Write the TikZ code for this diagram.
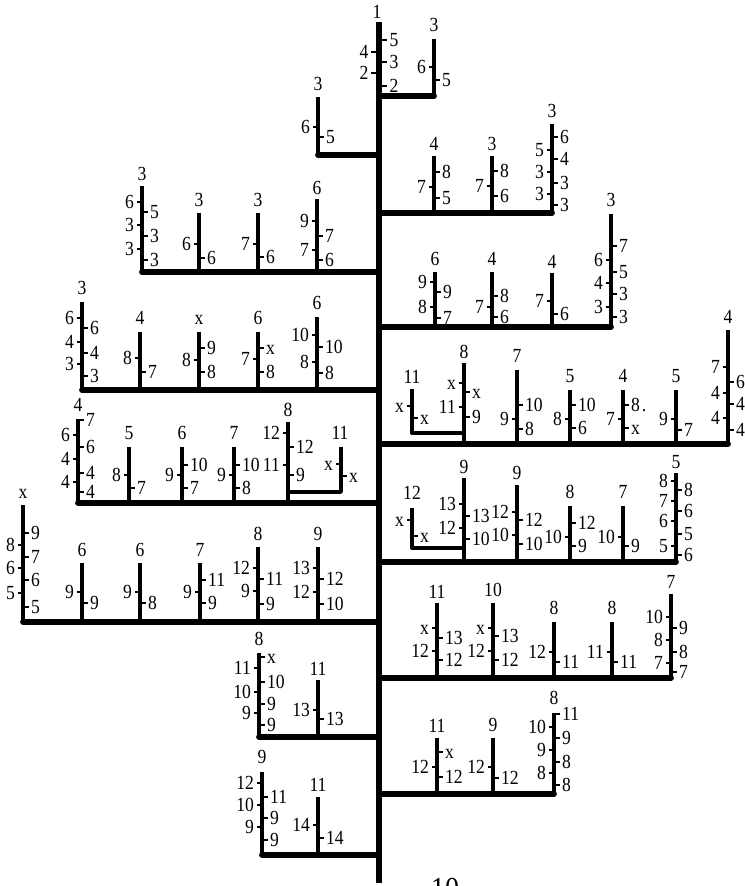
\documentclass[tikz,border=0pt]{standalone}
\usepackage{fontspec}
\setmainfont{Liberation Serif}[FakeStretch=0.88]
\newcommand\labfont{\fontsize{10}{10}\selectfont}
\newcommand\mytkw{5.5}
\newcommand\stm[5]{\def\sx{#1}\draw[st] (#1,#3) -- (#1,#2); \node[lab] at (#1,#5) {#4};}
\newcommand\rtk[2]{\draw[tk] (\sx,#1) -- ++(\mytkw,0) node[lab,anchor=west]{#2};}
\newcommand\ltk[2]{\draw[tk] (\sx,#1) -- ++(-\mytkw,0) node[lab,anchor=east]{#2};}
\begin{document}
\begin{tikzpicture}[x=0.5pt,y=-0.5pt,
 trunk/.style={line width=3.4pt},
 br/.style={line width=2.9pt, line cap=round},
 st/.style={line width=1.9pt},
 hk/.style={line width=1.7pt, line join=round},
 tk/.style={line width=1.4pt},
 lab/.style={font=\labfont, inner sep=0.6pt, text height=6.7pt, text depth=0pt}]
\useasboundingbox (0,0) rectangle (744,886);
% trunk
\draw[trunk] (379,22) -- (379,883);
\node[lab] (top) at (377,12) {1};
\def\sx{379}\renewcommand\mytkw{8}
\rtk{40}{5}\ltk{52}{4}\rtk{62}{3}\ltk{73}{2}\rtk{86}{2}
\renewcommand\mytkw{5.5}
% A
\draw[br] (379,96) -- (434,96);
\stm{434}{39}{96}{3}{25}\ltk{67}{6}\rtk{80}{5}
% B
\draw[br] (379,155) -- (318,155);
\stm{318}{97}{155}{3}{84}\ltk{127}{6}\rtk{137}{5}
% C
\draw[br] (379,213) -- (552,213);
\stm{434}{156}{213}{4}{144}\rtk{172}{8}\ltk{187}{7}\rtk{198}{5}
\stm{492}{156}{213}{3}{144}\rtk{171}{8}\ltk{186}{7}\rtk{196}{6}
\stm{552}{124}{213}{3}{111}\rtk{137}{6}\ltk{150}{5}\rtk{159}{4}\ltk{172}{3}\rtk{183}{3}\ltk{194}{3}\rtk{205}{3}
% D
\draw[br] (379,272) -- (142,272);
\stm{142}{186}{272}{3}{174}\ltk{202}{6}\rtk{212}{5}\ltk{225}{3}\rtk{236}{3}\ltk{249}{3}\rtk{260}{3}
\stm{199}{213}{272}{3}{200}\ltk{244}{6}\rtk{258}{6}
\stm{258}{213}{272}{3}{200}\ltk{244}{7}\rtk{257}{6}
\stm{317}{199}{272}{6}{188}\ltk{221}{9}\rtk{236}{7}\ltk{250}{7}\rtk{260}{6}
% E
\draw[br] (379,327) -- (611,327);
\stm{435}{272}{327}{6}{259}\ltk{282}{9}\rtk{292}{9}\ltk{307}{8}\rtk{318}{7}
\stm{492}{272}{327}{4}{259}\rtk{296}{8}\ltk{307}{7}\rtk{317}{6}
\stm{552}{273}{327}{4}{262}\ltk{301}{7}\rtk{314}{6}
\stm{611}{214}{327}{3}{200}\rtk{246}{7}\ltk{260}{6}\rtk{272}{5}\ltk{283}{4}\rtk{294}{3}\ltk{307}{3}\rtk{317}{3}
% F
\draw[br] (379,390) -- (82,390);
\stm{82}{302}{390}{3}{288}\ltk{318}{6}\rtk{328}{6}\ltk{342}{4}\rtk{353}{4}\ltk{364}{3}\rtk{376}{3}
\stm{140}{332}{390}{4}{318}\ltk{358}{8}\rtk{372}{7}
\stm{199}{332}{390}{x}{318}\rtk{348}{9}\ltk{360}{8}\rtk{372}{8}
\stm{258}{332}{390}{6}{318}\rtk{348}{x}\ltk{359}{7}\rtk{372}{8}
\stm{317}{317}{390}{6}{303}\ltk{335}{10}\rtk{347}{10}\ltk{362}{8}\rtk{373}{8}
% G
\draw[br] (379,444) -- (728,444);
\draw[hk] (412,389) -- (412,433) -- (464,433);
\node[lab] at (412,377) {11};
\def\sx{412}\ltk{406}{x}\rtk{418}{x}
\stm{464}{363}{444}{8}{352}\ltk{383}{x}\rtk{392}{x}\ltk{407}{11}\rtk{417}{9}
\stm{517}{370}{444}{7}{356}\rtk{405}{10}\ltk{419}{9}\rtk{429}{8}
\stm{570}{390}{444}{5}{376}\rtk{405}{10}\ltk{419}{8}\rtk{428}{6}
\stm{623}{390}{444}{4}{376}\rtk{405}{8\kern1pt.}\ltk{419}{7}\rtk{428}{x}
\stm{676}{390}{444}{5}{376}\ltk{419}{9}\rtk{430}{7}
\stm{728}{330}{444}{4}{317}\ltk{367}{7}\rtk{382}{6}\ltk{393}{4}\rtk{404}{4}\ltk{418}{4}\rtk{430}{4}
% H
\draw[br] (379,503) -- (78,503);
\stm{78}{419}{503}{4}{405}\rtk{420}{7}\ltk{435}{6}\rtk{447}{6}\ltk{459}{4}\rtk{473}{4}\ltk{482}{4}\rtk{492}{4}
\stm{129}{447}{503}{5}{433}\ltk{475}{8}\rtk{488}{7}
\stm{182}{447}{503}{6}{433}\rtk{465}{10}\ltk{475}{9}\rtk{488}{7}
\stm{234}{447}{503}{7}{433}\rtk{465}{10}\ltk{475}{9}\rtk{488}{8}
\stm{288}{422}{503}{8}{410}\ltk{433}{12}\rtk{447}{12}\ltk{465}{11}\rtk{475}{9}
\draw[hk] (341,447) -- (341,492) -- (288,492);
\node[lab] at (340,433) {11};
\def\sx{341}\ltk{464}{x}\rtk{476}{x}
% I
\draw[br] (379,622) -- (23,622);
\stm{23}{505}{622}{x}{492}\rtk{533}{9}\ltk{545}{8}\rtk{557}{7}\ltk{568}{6}\rtk{580}{6}\ltk{593}{5}\rtk{607}{5}
\stm{82}{563}{622}{6}{550}\ltk{592}{9}\rtk{603}{9}
\stm{140}{563}{622}{6}{550}\ltk{592}{9}\rtk{603}{8}
\stm{200}{563}{622}{7}{550}\rtk{580}{11}\ltk{592}{9}\rtk{603}{9}
\stm{258}{547}{622}{8}{534}\ltk{568}{12}\rtk{579}{11}\ltk{591}{9}\rtk{604}{9}
\stm{318}{547}{622}{9}{534}\ltk{568}{13}\rtk{579}{12}\ltk{592}{12}\rtk{604}{10}
% J
\draw[br] (379,562) -- (676,562);
\draw[hk] (412,508) -- (412,548) -- (464,548);
\node[lab] at (412,493) {12};
\def\sx{412}\ltk{520}{x}\rtk{536}{x}
\stm{464}{478}{562}{9}{467}\ltk{504}{13}\rtk{516}{13}\ltk{528}{12}\rtk{539}{10}
\stm{517}{485}{562}{9}{473}\ltk{512}{12}\rtk{520}{12}\ltk{535}{10}\rtk{544}{10}
\stm{570}{506}{562}{8}{492}\rtk{523}{12}\ltk{537}{10}\rtk{546}{9}
\stm{623}{506}{562}{7}{492}\ltk{537}{10}\rtk{546}{9}
\stm{676}{473}{562}{5}{462}\ltk{481}{8}\rtk{490}{8}\ltk{501}{7}\rtk{511}{6}\ltk{521}{6}\rtk{534}{5}\ltk{546}{5}\rtk{555}{6}
% K
\draw[br] (379,678) -- (671,678);
\stm{437}{603}{678}{11}{592}\ltk{628}{x}\rtk{638}{13}\ltk{651}{12}\rtk{660}{12}
\stm{493}{603}{678}{10}{590}\ltk{628}{x}\rtk{636}{13}\ltk{651}{12}\rtk{660}{12}
\stm{554}{622}{678}{8}{608}\ltk{652}{12}\rtk{662}{11}
\stm{612}{622}{678}{8}{608}\ltk{652}{11}\rtk{662}{11}
\stm{671}{594}{678}{7}{582}\ltk{617}{10}\rtk{628}{9}\ltk{640}{8}\rtk{652}{8}\ltk{663}{7}\rtk{672}{7}
% M
\draw[br] (379,737) -- (259,737);
\stm{259}{653}{737}{8}{639}\rtk{657}{x}\ltk{668}{11}\rtk{682}{10}\ltk{692}{10}\rtk{704}{9}\ltk{713}{9}\rtk{725}{9}
\stm{318}{680}{737}{11}{669}\ltk{710}{13}\rtk{719}{13}
% L
\draw[br] (379,794) -- (554,794);
\stm{437}{738}{794}{11}{726}\rtk{752}{x}\ltk{767}{12}\rtk{777}{12}
\stm{493}{738}{794}{9}{725}\ltk{767}{12}\rtk{778}{12}
\stm{554}{713}{794}{8}{698}\rtk{714}{11}\ltk{727}{10}\rtk{738}{9}\ltk{750}{9}\rtk{762}{8}\ltk{773}{8}\rtk{785}{8}
% N
\draw[br] (379,855) -- (262,855);
\stm{262}{772}{855}{9}{757}\ltk{783}{12}\rtk{797}{11}\ltk{805}{10}\rtk{818}{9}\ltk{827}{9}\rtk{840}{9}
\stm{318}{797}{855}{11}{785}\ltk{825}{14}\rtk{838}{14}
% page number (cut off at the page edge, as in the reference)
\node[font=\fontsize{16}{18}\selectfont, anchor=north, inner sep=0pt] (pg) at (445,878) {10};
\end{tikzpicture}
\end{document}
